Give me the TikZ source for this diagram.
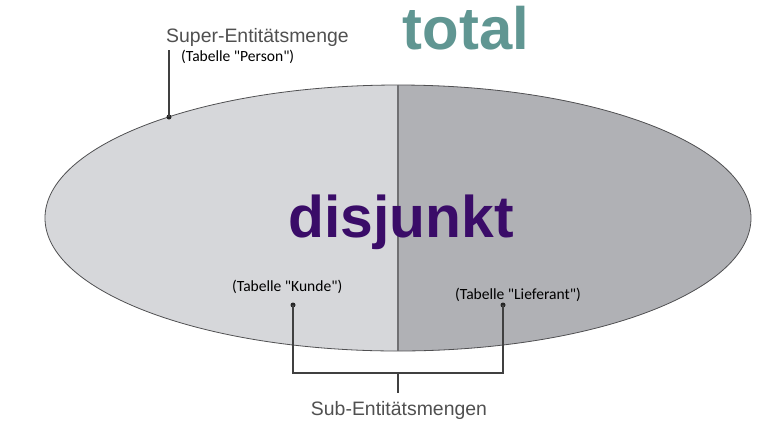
\documentclass[tikz,border=0pt]{standalone}
\usepackage{fontspec}
\setmainfont{Liberation Sans}
\newfontfamily\labelfont{Carlito}
\usetikzlibrary{shapes.geometric}
\definecolor{lightset}{RGB}{214,215,218}
\definecolor{darkset}{RGB}{176,177,181}
\definecolor{rimgray}{RGB}{80,80,82}
\definecolor{splitgray}{RGB}{112,112,115}
\definecolor{textgray}{RGB}{80,80,80}
\definecolor{totalteal}{RGB}{96,150,146}
\definecolor{disjpurple}{RGB}{58,12,104}

\begin{document}
\begin{tikzpicture}[x=1bp,y=-1bp,
    pin/.style={circle,fill=black!85,inner sep=0pt,minimum size=5bp},
    tabl/.style={font=\labelfont\fontsize{15.6}{18}\selectfont,inner sep=0pt,anchor=west},
    setname/.style={font=\fontsize{19.5}{22}\selectfont,text=textgray,inner sep=0pt},
    lead/.style={draw=black!75,line width=1.1bp}]

    \useasboundingbox (0,0) rectangle (770,429);

    % 1. The super set, split in two halves
    \node[ellipse,draw=rimgray,line width=0.8bp,fill=lightset,
          minimum width=706bp,minimum height=266bp,inner sep=0pt,
          path picture={\fill[darkset] (path picture bounding box.north)
              rectangle (path picture bounding box.south east);}]
          (super) at (398,218) {};
    \draw[splitgray,line width=1.3bp] (super.north) -- (super.south);

    % 2. Headlines
    \node[font=\bfseries\fontsize{60}{60}\selectfont,text=totalteal,inner sep=0pt]
          (total) at (466,28) {total};
    \node[font=\bfseries\fontsize{59}{59}\selectfont,text=disjpurple,inner sep=0pt]
          (disj) at (401,222) {disjunkt};

    % 3. Super set label
    \node[setname,anchor=west] (supername) at (166,37) {Super-Entitätsmenge};
    \node[tabl] (person) at (181,57) {(Tabelle "Person")};
    \node[pin] (superdot) at (169,117) {};
    \coordinate (supertop) at (169,50);
    \draw[lead] (superdot.center) -- (supertop);

    % 4. Sub sets
    \node[tabl] (kunde) at (232,287) {(Tabelle "Kunde")};
    \node[tabl] (lieferant) at (455,295) {(Tabelle "Lieferant")};
    \node[pin] (kundedot) at (293,305) {};
    \node[pin] (liefdot) at (503,305) {};

    % 5. Bracket down to the sub set label
    \coordinate (fork) at (398,373);
    \coordinate (stem) at (398,393);
    \draw[lead] (kundedot.center) |- (fork) -| (liefdot.center);
    \draw[lead] (fork) -- (stem);
    \node[setname] (subname) at (399,410) {Sub-Entitätsmengen};

\end{tikzpicture}
\end{document}
